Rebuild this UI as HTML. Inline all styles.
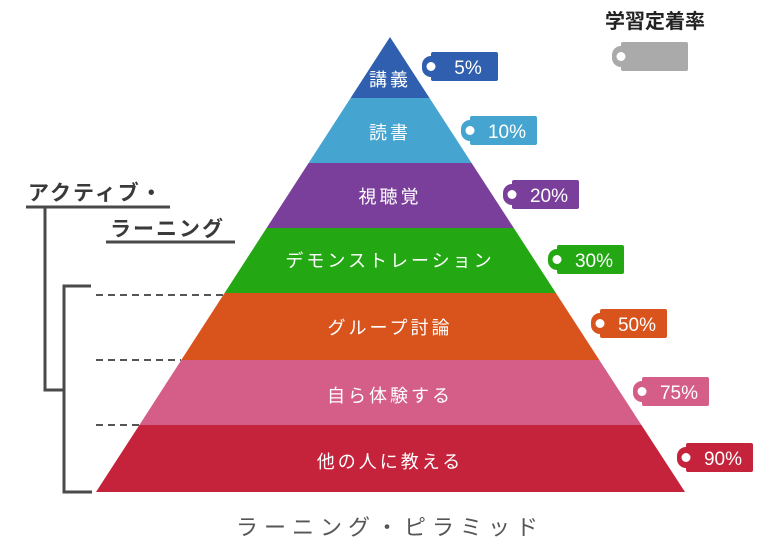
<!DOCTYPE html>
<html><head><meta charset="utf-8"><style>
html,body{margin:0;padding:0;background:#fff;}
svg{display:block;font-family:"Liberation Sans","Noto Sans CJK JP",sans-serif;}
</style></head><body>
<svg width="770" height="554" viewBox="0 0 770 554" xmlns="http://www.w3.org/2000/svg">
<defs>
<g id="tag"><rect x="9" y="0" width="67" height="29" rx="2"/><rect x="0" y="4" width="18" height="21" rx="9"/><circle cx="9" cy="14.5" r="4.5" fill="#fff"/></g>
</defs>
<polygon points="390,37 429.5,98 350.6,98" fill="#2f5fae"/>
<polygon points="350.6,98 429.5,98 471.6,163 308.6,163" fill="#45a5d0"/>
<polygon points="308.6,163 471.6,163 513.8,228 266.6,228" fill="#7a3f9a"/>
<polygon points="266.6,228 513.8,228 555.9,293 224.6,293" fill="#23a814"/>
<polygon points="224.6,293 555.9,293 599.3,360 181.3,360" fill="#d9531c"/>
<polygon points="181.3,360 599.3,360 641.4,425 139.4,425" fill="#d45e87"/>
<polygon points="139.4,425 641.4,425 685,492 96,492" fill="#c4233b"/>
<g fill="#fff" font-size="18" text-anchor="middle" letter-spacing="3">
<text x="390" y="86">講義</text>
<text x="390" y="139">読書</text>
<text x="390" y="203">視聴覚</text>
<text x="390" y="267">デモンストレーション</text>
<text x="390" y="334">グループ討論</text>
<text x="390" y="402">自ら体験する</text>
<text x="390" y="468">他の人に教える</text>
</g>
<g font-size="19" text-anchor="middle" fill="#fff">
<g transform="translate(422,52)" fill="#2f5fae"><use href="#tag"/><text x="46" y="22" fill="#fff">5%</text></g>
<g transform="translate(461,116)" fill="#45a5d0"><use href="#tag"/><text x="46" y="22" fill="#fff">10%</text></g>
<g transform="translate(503,180)" fill="#7a3f9a"><use href="#tag"/><text x="46" y="22" fill="#fff">20%</text></g>
<g transform="translate(548,245)" fill="#23a814"><use href="#tag"/><text x="46" y="22" fill="#fff">30%</text></g>
<g transform="translate(591,309)" fill="#d9531c"><use href="#tag"/><text x="46" y="22" fill="#fff">50%</text></g>
<g transform="translate(633,377)" fill="#d45e87"><use href="#tag"/><text x="46" y="22" fill="#fff">75%</text></g>
<g transform="translate(677,443)" fill="#c4233b"><use href="#tag"/><text x="46" y="22" fill="#fff">90%</text></g>
<g transform="translate(612,42)" fill="#aaaaaa"><use href="#tag"/></g>
</g>
<text x="655" y="28" font-size="20" font-weight="bold" text-anchor="middle" fill="#222">学習定着率</text>
<g stroke="#4a4a4a" stroke-width="3" fill="none">
<line x1="26" y1="207" x2="170" y2="207"/>
<line x1="106" y1="242" x2="235" y2="242"/>
<polyline points="45,207 45,390 64,390"/>
<polyline points="91,286 64,286 64,492 92,492"/>
</g>
<g stroke="#555" stroke-width="2" stroke-dasharray="7,5">
<line x1="96" y1="295" x2="224" y2="295"/>
<line x1="96" y1="360" x2="181" y2="360"/>
<line x1="96" y1="425" x2="139" y2="425"/>
</g>
<g font-size="21" font-weight="bold" fill="#3a3a3a" letter-spacing="2">
<text x="28" y="200">アクティブ・</text>
<text x="110" y="236">ラーニング</text>
</g>
<text x="390" y="535" font-size="22" text-anchor="middle" fill="#555" letter-spacing="6">ラーニング・ピラミッド</text>
</svg>
</body></html>
